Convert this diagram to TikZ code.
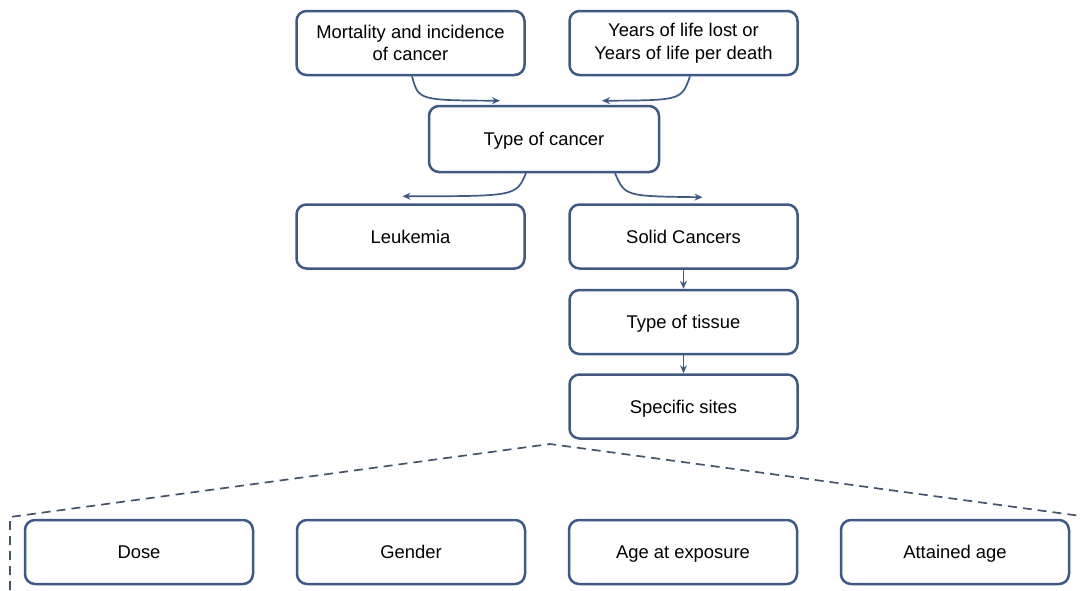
\documentclass[tikz,border=0pt]{standalone}
\usepackage{fontspec}
\setmainfont{Liberation Sans}
\usetikzlibrary{arrows.meta,calc}
\definecolor{boxblue}{RGB}{62,88,138}
\definecolor{dashgray}{RGB}{68,84,106}
\tikzset{
  factor/.style = {draw=boxblue, line width=2.5pt, rounded corners=10pt,
                   fill=white, align=center, inner sep=0pt,
                   minimum width=228pt, minimum height=64pt,
                   font=\fontsize{18.4}{22.5}\selectfont},
  oneline/.style = {text height=13.2pt, text depth=0pt},
  link/.style   = {draw=boxblue, line width=1.7pt,
                   -{Stealth[length=8pt,width=7pt]}},
  zoomline/.style = {draw=dashgray, line width=1.7pt,
                     dash pattern=on 9pt off 6pt}
}

\begin{document}
\begin{tikzpicture}[x=1pt, y=-1pt]
	\useasboundingbox (0,0) rectangle (1081,590);
	\def \colA{410.5}
	\def \colB{683.5}

	% top row
	\node[factor] (mort)  at (\colA,43) {Mortality and incidence\\of cancer};
	\node[factor] (years) at (\colB,43) {Years of life lost or\\Years of life per death};

	% type of cancer
	\node[factor, oneline, minimum width=230pt, minimum height=66pt] (type) at (544,139) {Type of cancer};

	% branches
	\node[factor, oneline] (leuk)   at (\colA,236.5) {Leukemia};
	\node[factor, oneline] (solid)  at (\colB,236.5) {Solid Cancers};
	\node[factor, oneline] (tissue) at (\colB,322)   {Type of tissue};
	\node[factor, oneline] (sites)  at (\colB,406.5) {Specific sites};

	% factors
	\node[factor, oneline] (dose)     at (139,552) {Dose};
	\node[factor, oneline] (gender)   at (411,552) {Gender};
	\node[factor, oneline] (age)      at (683,552) {Age at exposure};
	\node[factor, oneline] (attained) at (955,552) {Attained age};

	% Arrows
	\draw[link] ($(mort.south)+(1.5,0)$) .. controls ($(mort.south)+(8,24)$) .. ($(type.north)+(-44,-4)$);
	\draw[link] ($(years.south)+(6.5,0)$) .. controls ($(years.south)+(-2,24)$) .. ($(type.north)+(58,-4)$);
	\draw[link] ($(type.south)+(-18,0)$) .. controls ($(type.south)+(-28,23)$) .. ($(leuk.north)+(-8,-7)$);
	\draw[link] ($(type.south)+(71,0)$) .. controls ($(type.south)+(81,23)$) .. ($(solid.north)+(19,-6)$);
	\draw[link] (solid) -- (tissue);
	\draw[link] (tissue) -- (sites);

	% Zoom lines
	\coordinate (apex)  at (550,444);
	\coordinate (lcorn) at (10,517);
	\coordinate (lend)  at (10,590);
	\coordinate (rend)  at (1081,516);
	\draw[zoomline] (lend) -- (lcorn) -- (apex) -- (rend);
\end{tikzpicture}
\end{document}
